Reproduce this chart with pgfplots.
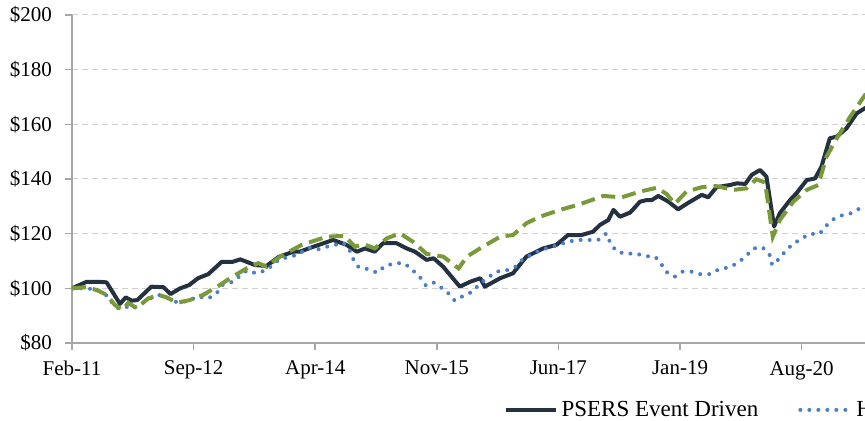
\documentclass[border=0pt]{standalone}
\usepackage{fontspec}
\setmainfont{Liberation Serif}
\usepackage{pgfplots}
\pgfplotsset{compat=1.18}
\definecolor{psers}{HTML}{233140}
\definecolor{bench}{HTML}{4A7EC7}
\definecolor{compgreen}{HTML}{7A9A3A}
\definecolor{axgray}{HTML}{A6A6A6}
\definecolor{gridgray}{HTML}{D0D0D0}

\begin{document}
\begin{tikzpicture}
\useasboundingbox (-36pt,-39pt) rectangle (396.5pt,171.5pt);
\clip (-36pt,-39pt) rectangle (396.5pt,171.5pt);
\begin{axis}[
  at={(0pt,0pt)}, anchor=south west,
  scale only axis, width=416pt, height=164pt,
  xmin=0, xmax=130, ymin=80, ymax=200,
  axis x line*=bottom, axis y line*=left,
  axis line style={axgray, line width=0.8pt, -},
  tick style={axgray, line width=0.8pt},
  tick align=outside, major tick length=3.5pt,
  xtick={0,19,38,57,76,95,114},
  xticklabels={Feb-11,Sep-12,Apr-14,Nov-15,Jun-17,Jan-19,Aug-20},
  ytick={80,100,...,200},
  yticklabels={\$80,\$100,\$120,\$140,\$160,\$180,\$200},
  ymajorgrids, grid style={gridgray, densely dashed, line width=0.5pt},
  ticklabel style={font=\fontsize{10.5}{12}\selectfont},
  xticklabel style={yshift=-2pt},
  yticklabel style={xshift=-3pt},
  legend columns=3,
  legend style={draw=none, fill=none, at={(0.511,-0.204)}, anchor=west,
    font=\fontsize{11.5}{13}\selectfont,
    /tikz/every even column/.append style={column sep=18pt}},
  legend image code/.code={\draw[#1] (0pt,0pt) -- (25pt,0pt);},
]
\addplot[psers, line width=2pt, line join=round] coordinates {
 (0,100) (2.3,102.4) (3.9,102.4) (5.4,102.2) (7.5,94.3) (8.4,96.7) (9.3,95.5)
 (10.2,95.7) (12.4,100.6) (14.3,100.4) (15.4,97.9) (16.9,100) (18.3,101.2)
 (19.7,103.7) (21.3,105.2) (23.4,109.7) (25.1,109.7) (26.3,110.6) (28.6,108.5)
 (30.4,108.2) (32.3,111.5) (34.6,113.4) (35.6,113.4) (37.7,115.2) (40.8,117.7)
 (42.9,115.9) (44.5,113.4) (45.8,114.6) (47.3,113.4) (48.6,116.5) (50.7,116.5)
 (52.3,114.6) (53.6,113.4) (55.4,110.4) (56.5,111) (58,107.9) (60.6,100.6)
 (62.2,102.4) (63.8,103.7) (64.5,100.6) (66.9,103.7) (68.9,105.5) (71,111.6)
 (73.6,114.6) (75.7,115.9) (77.5,119.5) (79.6,119.5) (81.4,120.7) (82.5,123.2)
 (83.8,125) (84.6,128.7) (85.6,126.2) (87.2,127.7) (88.75,131.7) (89.8,132.3)
 (90.6,132.3) (91.6,133.8) (93.2,131.7) (94.7,128.9) (96.3,131.3) (98.4,134.2)
 (99.4,133.3) (100.7,137) (102.8,137.8) (103.9,138.4) (105.2,138.2) (106.2,141.5)
 (107.5,143.3) (108.5,140.9) (109.7,122.6) (110.6,127.5) (112.2,132.3)
 (113.2,134.8) (114.8,139.6) (116.1,140.2) (117.1,144.5) (118.4,154.9)
 (119.5,155.5) (121,158.5) (122.6,164) (123.9,165.9) (125,167)};
\addlegendentry{PSERS Event Driven}
\addplot[bench, line width=2pt, line cap=round, dash pattern=on 0pt off 4.5pt] coordinates {
 (0,100) (2,100) (3.85,99.6) (5.2,97.9) (7,92.7) (8.3,93.3) (9.6,92.7)
 (12.2,96.3) (13.75,97.6) (15,96.3) (16.6,94.7) (18.2,95.5) (19.7,97)
 (21.3,96.3) (22.6,98.2) (23.5,101.2) (25.1,102.4) (27.3,106.5) (28.8,105.5)
 (30.4,106.7) (32.5,110.8) (34.3,111.6) (35.6,112.8) (36.9,114.9) (38.5,114.3)
 (39.8,115.2) (41.1,115.9) (42.4,116.7) (43.4,113.8) (44,110.4) (44.8,107.7)
 (46.3,107) (47.7,105.7) (48.9,108.2) (50.5,109.2) (51.9,109.2) (53.2,106.7)
 (54.4,104) (55.3,101) (56.5,102.1) (57.6,100.4) (58.8,98.2) (59.8,95.5)
 (61.1,97.2) (62.6,98.8) (63.75,101.8) (64.9,103.7) (66.25,106.1) (67.8,106.5)
 (69.2,107.7) (70.4,110.6) (71.7,112.2) (73.1,113.8) (74.6,115) (76.1,115.9)
 (77.5,117.1) (79.1,117.7) (80.7,117.7) (82.2,117.7) (83.5,120.1) (84.1,116.7)
 (85,113.7) (86.4,112.6) (88,112.8) (89.5,111.8) (91.1,111.6) (92,109.2)
 (92.8,106.1) (94.2,104.3) (95.4,106.1) (96.8,106.1) (98.1,105.2) (99.7,105.2)
 (101.1,107) (102.7,107.7) (104.1,109.4) (105.3,111.8) (106.5,114.6) (107.9,115)
 (109,112.2) (109.4,108.5) (110.4,110.6) (111.4,113.4) (112.6,116.2) (113.9,118)
 (115.2,119.9) (116.8,119.9) (117.8,122.8) (119,125.3) (120.4,126.8)
 (121.8,127.5) (123.1,129.3) (125,130)};
\addlegendentry{HFRI Event Driven Index}
\addplot[compgreen, line width=2pt, dash pattern=on 7pt off 3.5pt] coordinates {
 (0,100) (2,100.4) (3.85,99.4) (5.4,97.6) (6.7,93.9) (7.9,92.1) (8.8,94.7)
 (10.1,92.7) (11.9,96.3) (13.5,97.6) (14.8,96.7) (16.4,94.7) (18.4,95.7)
 (20.5,97.6) (23.1,101.2) (25.1,104.3) (27.3,107.3) (29.1,109.2) (30.4,107.9)
 (32.5,111.6) (35.8,115.8) (39.8,118.9) (42.6,119.2) (44.2,115.2) (45.5,116.2)
 (47.3,114.6) (49.2,118.3) (51.25,120.1) (53.3,117) (55.4,112.6) (58,111.6)
 (60.4,107.3) (61.7,111.6) (63.75,114.6) (66.9,118.9) (68.9,119.5) (71,123.8)
 (73.1,126.2) (76.25,128.7) (79.4,130.8) (83,133.8) (85.9,133.3) (88.75,135.4)
 (91.4,136.8) (92.9,134.5) (94.2,130.9) (96,135.4) (98.4,137) (100.7,137.4)
 (103.3,136) (105.4,136.6) (106.9,139.9) (108.3,138.7) (109.5,118.9)
 (110.6,125) (112.7,131.7) (114.8,136) (116.6,137.8) (117.9,148.2)
 (119.5,154.9) (121.6,162.8) (123.9,170.7) (125,172)};
\addlegendentry{Composite Benchmark}
\end{axis}
\end{tikzpicture}
\end{document}
